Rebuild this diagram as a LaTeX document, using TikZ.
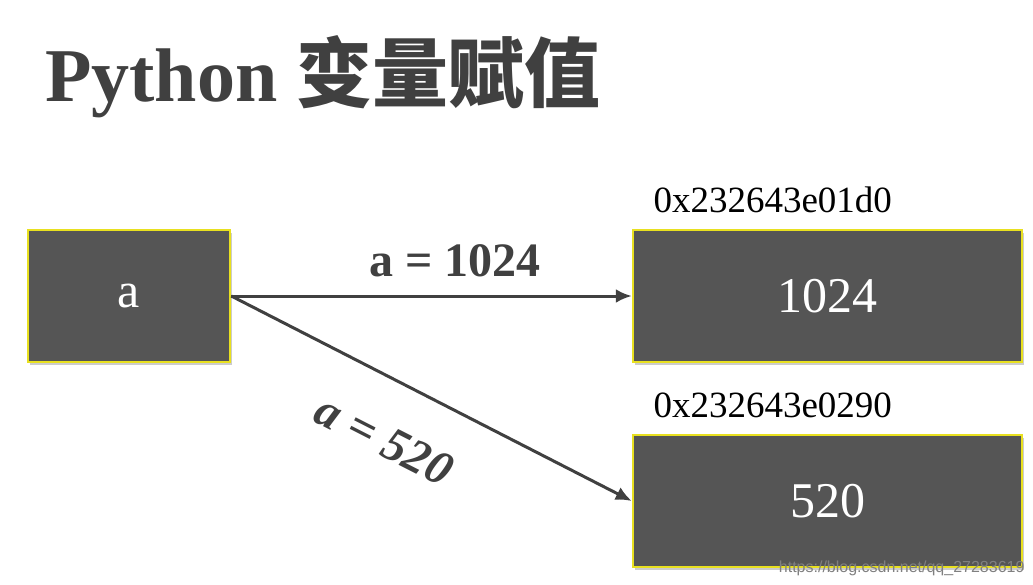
\documentclass[tikz,border=0pt]{standalone}
\usepackage{fontspec}
\setmainfont{Liberation Serif}
\newfontfamily\cjk{Noto Sans CJK SC}
\newfontfamily\wm{Liberation Sans}
\usetikzlibrary{shadows,arrows.meta}
\definecolor{boxfill}{HTML}{555555}
\definecolor{boxedge}{HTML}{E8E020}
\definecolor{txtgray}{HTML}{404040}
\begin{document}
\begin{tikzpicture}[x=1pt,y=-1pt,
  membox/.style={draw=boxedge,line width=2.5pt,fill=boxfill,inner sep=0pt,
    drop shadow={shadow xshift=2pt,shadow yshift=-3pt,opacity=0.4},
    text=white,font=\fontsize{50}{54}\selectfont},
  arr/.style={draw=txtgray,line width=3pt,-{Latex[length=16pt,width=14pt]}},
  lbl/.style={font=\bfseries\fontsize{48}{52}\selectfont,text=txtgray},
  addr/.style={font=\fontsize{37}{40}\selectfont,text=black,anchor=base west}]
\useasboundingbox[fill=white] (0,0) rectangle (1033,584);
\node[anchor=base west,text=txtgray,inner sep=0pt] (title) at (45,101)
  {\fontsize{76}{82}\selectfont\bfseries Python {\cjk\bfseries 变量赋值}};
\node[membox,minimum width=202pt,minimum height=132pt] (a) at (129,296) {\raisebox{-8pt}{a}};
\node[membox,minimum width=389pt,minimum height=132pt] (b) at (827.5,296) {\raisebox{-6pt}{1024}};
\node[membox,minimum width=389pt,minimum height=132pt] (c) at (827.5,501) {\raisebox{-6pt}{520}};
\node[addr] (ab) at (650,212) {0x232643e01d0};
\node[addr] (ac) at (650,417) {0x232643e0290};
\draw[arr] (a.east) -- (b.west);
\draw[arr] (a.east) -- (c.west);
\node[lbl] (l1) at (455,261) {a = 1024};
\node[lbl,rotate=-27] (l2) at (384,440) {\itshape a = 520};
\node[anchor=base east,text=gray,font=\wm\fontsize{16}{18}\selectfont] (w) at (1028,572) {https://blog.csdn.net/qq\_27283619};
\end{tikzpicture}
\end{document}
